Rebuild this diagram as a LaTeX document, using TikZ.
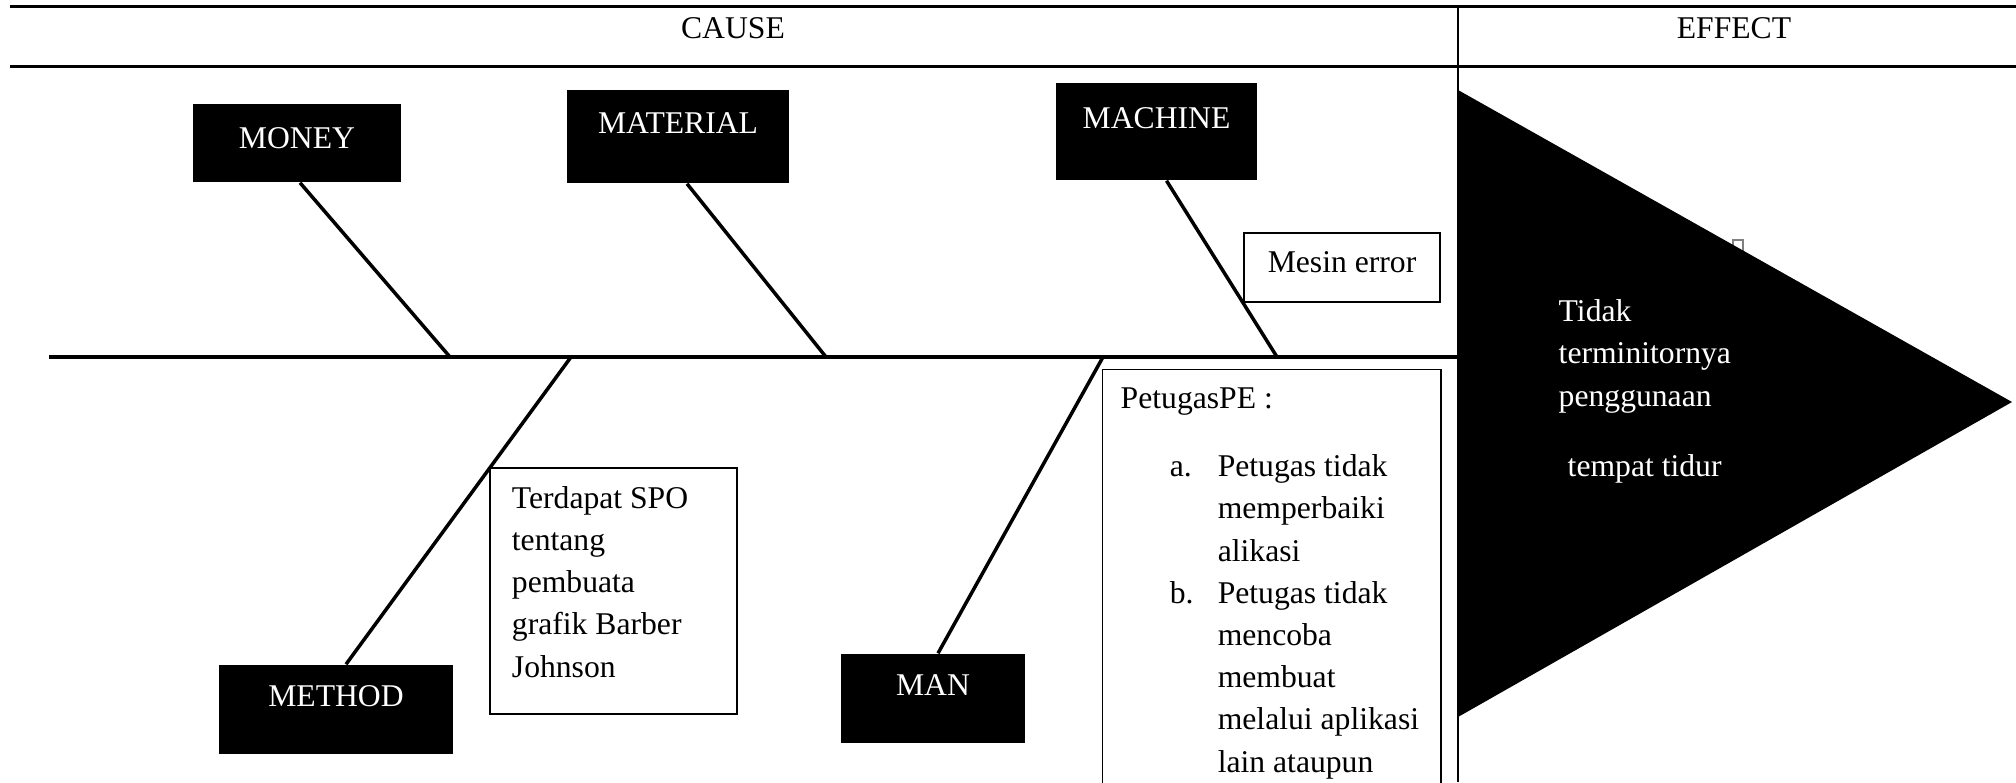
\documentclass[tikz,border=0pt]{standalone}
\usepackage{fontspec}
\setmainfont{Liberation Serif}
\usetikzlibrary{positioning}

\begin{document}
\begin{tikzpicture}[
    x=0.01cm, y=-0.01cm,
    every node/.style={font=\fontsize{9pt}{12pt}\selectfont},
    catbox/.style={fill=black, text=white, inner sep=0pt, text depth=0.26cm},
    notebox/.style={draw, thin},
    notetext/.style={anchor=north west, align=left, inner sep=0pt},
    bone/.style={line width=0.035cm},
    rule/.style={line width=0.03cm}
  ]
    \useasboundingbox (0,0) rectangle (2016,782);

    % header
    \draw[rule] (10,7) -- (2016,7);
    \draw[rule] (10,67) -- (2016,67);
    \draw[line width=0.02cm] (1458,7) -- (1458,782);
    \node (cause) at (733,28) {CAUSE};
    \node (effect) at (1734,28) {EFFECT};

    % effect head
    \draw[thin, gray] (1733,240) rectangle (1743,262);
    \fill (1458,90) -- (2012,402) -- (1458,717) -- cycle;
    \node[notetext, text=white] (effectText) at (1558,299) {Tidak\\ terminitornya\\ penggunaan\\[0.28cm] \hspace*{0.09cm}tempat tidur};

    % spine
    \coordinate (tail) at (49,357);
    \coordinate (head) at (1458,357);
    \draw[bone] (tail) -- (head);
    \coordinate (jMoney) at (450,357);
    \coordinate (jMethod) at (571,357);
    \coordinate (jMaterial) at (826,357);
    \coordinate (jMan) at (1103,357);
    \coordinate (jMachine) at (1277,357);

    % categories
    \node[catbox, minimum width=2.07cm, minimum height=0.78cm, text depth=0.1cm] (money) at (297,143) {MONEY};
    \node[catbox, minimum width=2.22cm, minimum height=0.93cm] (material) at (678,136.5) {MATERIAL};
    \node[catbox, minimum width=2.01cm, minimum height=0.97cm] (machine) at (1156.5,131.5) {MACHINE};
    \node[catbox, minimum width=2.34cm, minimum height=0.89cm] (method) at (336,709.5) {METHOD};
    \node[catbox, minimum width=1.84cm, minimum height=0.89cm] (man) at (933,698.5) {MAN};

    \draw[bone] ([xshift=0.03cm]money.south) -- (jMoney);
    \draw[bone] ([xshift=0.09cm]material.south) -- (jMaterial);
    \draw[bone] ([xshift=0.1cm]machine.south) -- (jMachine);
    \draw[bone] ([xshift=0.1cm]method.north) -- (jMethod);
    \draw[bone] ([xshift=0.05cm]man.north) -- (jMan);

    % causes
    \node[notebox, minimum width=1.96cm, minimum height=0.69cm, text depth=0.1cm] (mesin) at (1342,267.5) {Mesin error};
    \node[notebox, minimum width=2.47cm, minimum height=2.46cm] (spo) at (613.5,591) {};
    \node[notetext] (spoText) at ([xshift=0.22cm,yshift=-0.184cm]spo.north west) {Terdapat SPO\\ tentang\\ pembuata\\ grafik Barber\\ Johnson};
    \node[notebox, minimum width=3.38cm, minimum height=4.3cm, anchor=north west] (petugas) at (1102,369) {};
    \node[notetext] (petugasText) at ([xshift=0.18cm,yshift=-0.18cm]petugas.north west) {PetugasPE :\\[0.26cm]
      \hspace*{0.49cm}\makebox[0.48cm][l]{a.}Petugas tidak\\
      \hspace*{0.97cm}memperbaiki\\
      \hspace*{0.97cm}alikasi\\
      \hspace*{0.49cm}\makebox[0.48cm][l]{b.}Petugas tidak\\
      \hspace*{0.97cm}mencoba\\
      \hspace*{0.97cm}membuat\\
      \hspace*{0.97cm}melalui aplikasi\\
      \hspace*{0.97cm}lain ataupun};
\end{tikzpicture}
\end{document}
